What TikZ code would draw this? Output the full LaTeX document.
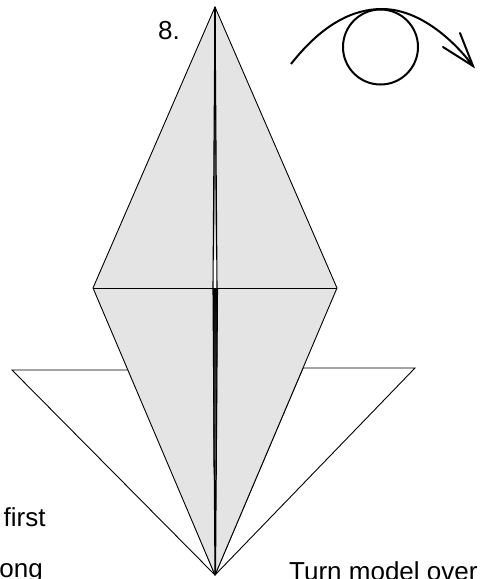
\documentclass[tikz,border=0pt]{standalone}
\usepackage{fontspec}
\setmainfont{Liberation Sans}
\definecolor{paper}{gray}{0.895}
\tikzset{
  edge/.style={draw=black,line width=0.9pt,line join=miter},
  face/.style={edge,fill=paper},
  slit/.style={draw=black,line width=1.1pt},
  label/.style={inner sep=0pt,anchor=base west,font=\fontsize{26}{30}\selectfont},
  sym/.style={draw=black,line width=2pt}
}
\begin{document}
\begin{tikzpicture}[x=1pt,y=-1pt]
\path[use as bounding box] (0,0) rectangle (481,579);
\begin{scope}
\clip (0,0) rectangle (481,579);
% white back flaps
\draw[edge,fill=white] (215,575) -- (12,370) -- (130,370) -- (215,575);
\draw[edge,fill=white] (215,575) -- (415,368) -- (303,368) -- (215,575);
% grey kite
\draw[face] (215,7) -- (93,288) -- (215,575) -- (337,288) -- cycle;
\draw[edge] (93,288) -- (337,288);
% centre slit, upper
\fill[white] (215,7) -- (213,288) -- (217,288) -- cycle;
\shade[top color=black,bottom color=gray!70!black] (214.5,40) -- (213.9,170) -- (215.9,170) -- (215.5,40) -- cycle;
\shade[top color=gray!70!black,bottom color=white] (213.9,170) -- (213.5,262) -- (216.4,262) -- (215.9,170) -- cycle;
\draw[slit] (215,7) -- (213,288);
\draw[slit] (215,7) -- (217,288);
\draw[black,line width=1.5pt] (215,7) -- (215,120);
% centre slit, lower
\shade[top color=black,bottom color=gray!80!black] (213,288) -- (217.5,288) -- (216.8,480) -- (213.8,480) -- cycle;
\fill[white] (213.8,480) -- (216.8,480) -- (215.5,575) -- (215,575) -- cycle;
\fill[black] (214.5,480) -- (216.1,480) -- (215.6,575) -- (214.9,575) -- cycle;
\draw[slit] (213,288) -- (215,575);
\draw[slit] (217.5,288) -- (215.5,575);
% turn-over symbol
\draw[sym] (380.5,47) circle (37.5);
\draw[sym] (291,64) .. controls (324,22) and (355,9) .. (382,9) .. controls (418,9) and (452,38) .. (473,66);
\draw[sym,line cap=round] (460,33) -- (473,66) -- (443,47);
\end{scope}
\node[label] (stepno) at (158,39) {8.};
\node[label] (first) at (3.5,526.7) {first};
\node[label] (along) at (-0.8,577.5) {ong};
\node[label] (turn) at (289,580) {Turn model over};
\end{tikzpicture}
\end{document}
